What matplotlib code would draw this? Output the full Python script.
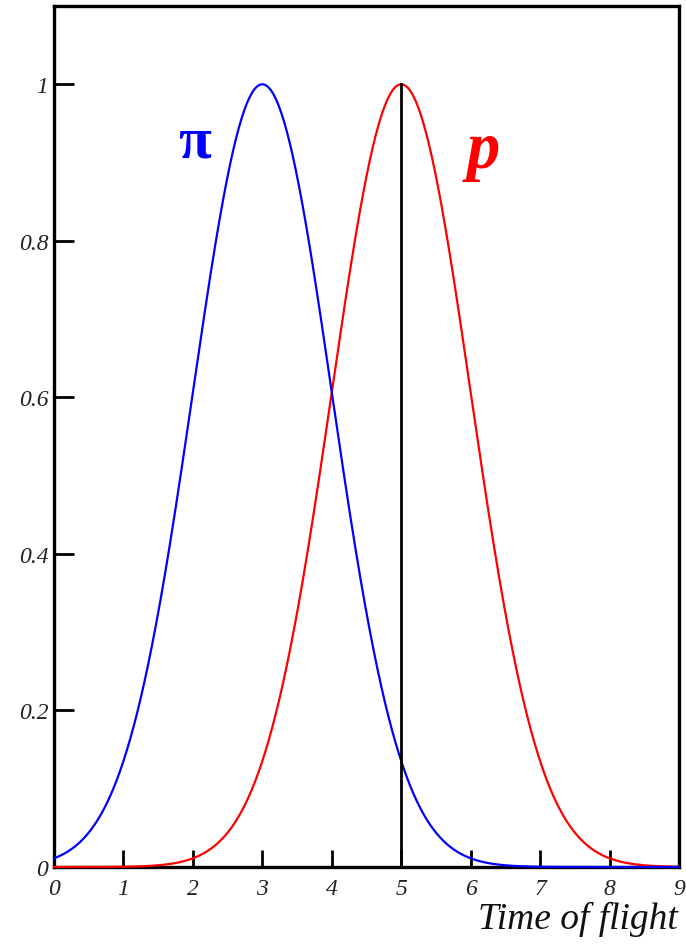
import numpy as np
import matplotlib
matplotlib.use("Agg")
import matplotlib.pyplot as plt

# Time-of-flight response for each particle species
species = ["π", "p"]
peak_time = [3.0, 5.0]
peak_width = [1.0, 1.0]
peak_height = [1.0, 1.0]
line_colors = ["#0000ff", "#ff0000"]

x_ticks = [0, 1, 2, 3, 4, 5, 6, 7, 8, 9]
y_ticks = [0, 0.2, 0.4, 0.6, 0.8, 1.0]
y_tick_labels = ["0", "0.2", "0.4", "0.6", "0.8", "1"]
marker_time = 5.0

serif = ["Liberation Serif", "DejaVu Serif"]

fig = plt.figure(figsize=(6.86, 9.45), dpi=100)
ax = fig.add_axes([54 / 686, 1 - 868 / 945, (679 - 54) / 686, (868 - 7) / 945])

t = np.linspace(0, 9, 901)
# proton drawn first, pion on top
for i in [1, 0]:
    curve = peak_height[i] * np.exp(-0.5 * ((t - peak_time[i]) / peak_width[i]) ** 2)
    ax.plot(t, curve, color=line_colors[i], lw=1.6, zorder=3 + (1 - i), clip_on=False)

ax.plot([marker_time, marker_time], [0, peak_height[1]], color="black", lw=2.0, zorder=5)

ax.set_xlim(0, 9)
ax.set_ylim(0, 1.1)
ax.set_xticks(x_ticks)
ax.set_xticklabels([str(v) for v in x_ticks])
ax.set_yticks(y_ticks)
ax.set_yticklabels(y_tick_labels)

for s in ax.spines.values():
    s.set_linewidth(2.4)
ax.tick_params(axis="both", direction="in", width=2.0, colors="black")
ax.tick_params(axis="x", length=12.5, pad=8)
ax.tick_params(axis="y", length=14.5, pad=4)
for lab in ax.get_xticklabels() + ax.get_yticklabels():
    lab.set_fontfamily(serif)
    lab.set_fontstyle("italic")
    lab.set_fontsize(17)
    lab.set_color("#222222")

ax.text(2.02, 0.925, species[0], color=line_colors[0], fontsize=43, fontweight="bold",
        family=serif, ha="center", va="center")
ax.text(6.18, 0.915, species[1], color=line_colors[1], fontsize=48, fontweight="bold",
        fontstyle="italic", family=serif, ha="center", va="center")

fig.text(678 / 686, 1 - 929 / 945, "Time of flight", fontsize=27, fontstyle="italic",
         family=serif, ha="right", va="baseline", color="#111111")

fig.savefig("out.png", dpi=100)
